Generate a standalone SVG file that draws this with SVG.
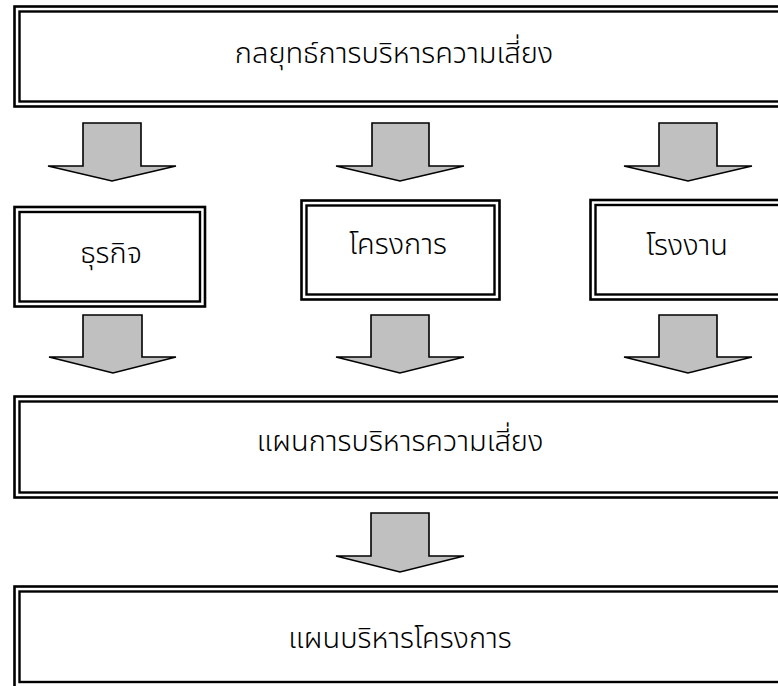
<svg xmlns="http://www.w3.org/2000/svg" width="778" height="686" viewBox="0 0 778 686">
<style>
.o{fill:#fff;stroke:#000;stroke-width:2.6}
.i{fill:none;stroke:#000;stroke-width:2.4}
.a{fill:#c0c0c0;stroke:#000;stroke-width:1.6;stroke-linejoin:miter}
.t{font-family:"Noto Sans Thai","Noto Sans","DejaVu Sans",sans-serif;font-size:29px;font-weight:300;fill:#000;text-anchor:middle}
</style>
<rect width="778" height="686" fill="#fff"/>
<g id="n1">
<rect class="o" x="14.5" y="6.5" width="780" height="100"/>
<rect class="i" x="19.5" y="11.5" width="770" height="90"/>
<text class="t" x="394" y="63">กลยุทธ์การบริหารความเสี่ยง</text>
</g>
<g id="n2">
<rect class="o" x="14.5" y="207" width="190.5" height="99.5"/>
<rect class="i" x="19.5" y="212" width="180.5" height="89.5"/>
<text class="t" x="111" y="263">ธุรกิจ</text>
</g>
<g id="n3">
<rect class="o" x="301.5" y="200.5" width="198" height="99"/>
<rect class="i" x="306.5" y="205.5" width="188" height="89"/>
<text class="t" x="398" y="254">โครงการ</text>
</g>
<g id="n4">
<rect class="o" x="590.5" y="200" width="200" height="99.5"/>
<rect class="i" x="595.5" y="205" width="190" height="89.5"/>
<text class="t" x="687" y="255">โรงงาน</text>
</g>
<g id="n5">
<rect class="o" x="14.5" y="396.5" width="780" height="101"/>
<rect class="i" x="19.5" y="401.5" width="770" height="91"/>
<text class="t" x="400" y="451">แผนการบริหารความเสี่ยง</text>
</g>
<g id="n6">
<rect class="o" x="14.5" y="586.5" width="780" height="101"/>
<rect class="i" x="19.5" y="591.5" width="770" height="90.5"/>
<text class="t" x="400" y="648">แผนบริหารโครงการ</text>
</g>
<g id="connectors">
<polygon class="a" points="83,123 141,123 141,166 176,166 112,181 48,166 83,166"/>
<polygon class="a" points="372,123 429,123 429,166 464,166 400,181 336,166 372,166"/>
<polygon class="a" points="659,123 717,123 717,166 752,166 688,181 624,166 659,166"/>
<polygon class="a" points="83,315 142,315 142,357 176,357 113,373 49,357 83,357"/>
<polygon class="a" points="371,315 429,315 429,357 464,357 400,373 336,357 371,357"/>
<polygon class="a" points="659,315 717,315 717,357 752,357 688,373 624,357 659,357"/>
<polygon class="a" points="371,513 429,513 429,556 464,556 400,572 336,556 371,556"/>
</g>
</svg>
